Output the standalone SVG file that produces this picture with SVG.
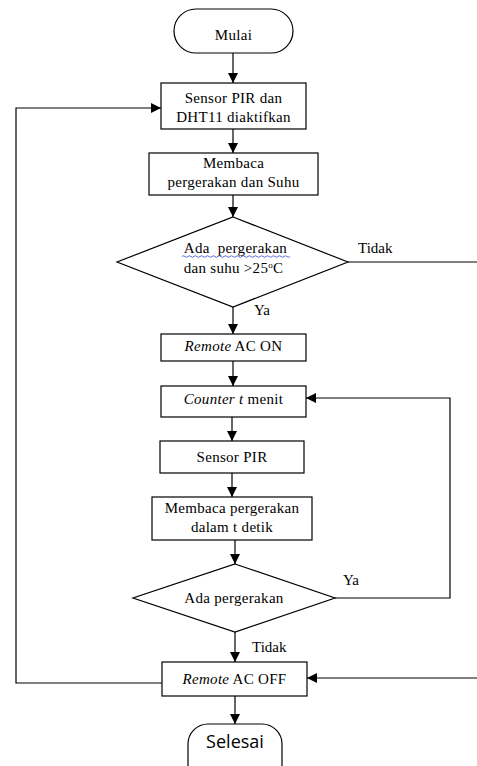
<svg xmlns="http://www.w3.org/2000/svg" width="477" height="766" viewBox="0 0 477 766">
<style>
.shape{fill:#fff;stroke:#000;stroke-width:1.2}
.t{font-family:"Liberation Serif","Times New Roman",serif;font-size:15px;fill:#000;text-anchor:middle;letter-spacing:0.3px}
.lbl{font-family:"Liberation Serif","Times New Roman",serif;font-size:15px;fill:#000}
.s{font-family:"Open Sans","Liberation Sans",sans-serif;font-size:18px;fill:#000;text-anchor:middle}
.c{fill:none;stroke:#000;stroke-width:1.2}
</style>
<defs>
<marker id="ah" markerWidth="10" markerHeight="10" refX="10" refY="5" orient="auto" markerUnits="userSpaceOnUse">
<path d="M0,0 L10,5 L0,10 z" fill="#000"/>
</marker>
</defs>
<rect width="477" height="766" fill="#fff"/>
<g id="connectors">
<path class="c" d="M233,53 V83" marker-end="url(#ah)"/>
<path class="c" d="M233,129 V153" marker-end="url(#ah)"/>
<path class="c" d="M233,195 V217" marker-end="url(#ah)"/>
<path class="c" d="M233,307 V334" marker-end="url(#ah)"/>
<path class="c" d="M233,361 V386" marker-end="url(#ah)"/>
<path class="c" d="M232,417 V441" marker-end="url(#ah)"/>
<path class="c" d="M232,473 V497" marker-end="url(#ah)"/>
<path class="c" d="M235,540 V564" marker-end="url(#ah)"/>
<path class="c" d="M235,632 V662" marker-end="url(#ah)"/>
<path class="c" d="M235,696 V724" marker-end="url(#ah)"/>
<path class="c" d="M335,598 H450 V398 H306" marker-end="url(#ah)"/>
<path class="c" d="M348,262 H477"/>
<path class="c" d="M477,678 H307" marker-end="url(#ah)"/>
<path class="c" d="M162,683 H16 V108 H161" marker-end="url(#ah)"/>
<text class="lbl" x="358" y="253">Tidak</text>
<text class="lbl" x="254" y="315">Ya</text>
<text class="lbl" x="343" y="585">Ya</text>
<text class="lbl" x="252" y="652">Tidak</text>
</g>
<g id="mulai">
<rect class="shape" x="174" y="9" width="119" height="44" rx="22"/>
<text class="t" x="233.5" y="40">Mulai</text>
</g>
<g id="aktifkan">
<rect class="shape" x="161" y="83" width="145" height="46"/>
<text class="t" x="233.5" y="103">Sensor PIR dan</text>
<text class="t" x="233.5" y="122">DHT11 diaktifkan</text>
</g>
<g id="membaca">
<rect class="shape" x="149" y="153" width="169" height="42"/>
<text class="t" x="233.5" y="168">Membaca</text>
<text class="t" x="233.5" y="187">pergerakan dan Suhu</text>
</g>
<g id="cek1">
<polygon class="shape" points="233,217 348,262 233,307 117,262"/>
<text class="t" x="235.5" y="253" xml:space="preserve">Ada  pergerakan</text>
<path d="M182,256.5 q1.5,-1.5 3,0 t3,0 t3,0 t3,0 t3,0 t3,0 t3,0 t3,0 t3,0 t3,0 t3,0 t3,0 t3,0 t3,0 t3,0 t3,0 t3,0 t3,0 t3,0 t3,0 t3,0 t3,0 t3,0 t3,0 t3,0 t3,0 t3,0 t3,0 t3,0 t3,0 t3,0 t3,0 t3,0 t3,0 t3,0 t3,0" fill="none" stroke="#4a5fd0" stroke-width="0.9"/>
<text class="t" x="233.5" y="273">dan suhu &gt;25<tspan font-size="9" dy="-5">o</tspan><tspan dy="5">C</tspan></text>
</g>
<g id="acon">
<rect class="shape" x="161" y="334" width="145" height="27"/>
<text class="t" x="233.5" y="351"><tspan font-style="italic">Remote</tspan> AC ON</text>
</g>
<g id="counter">
<rect class="shape" x="161" y="386" width="145" height="31"/>
<text class="t" x="233.5" y="404"><tspan font-style="italic">Counter t</tspan> menit</text>
</g>
<g id="pir">
<rect class="shape" x="160" y="441" width="144" height="32"/>
<text class="t" x="232" y="462">Sensor PIR</text>
</g>
<g id="membaca2">
<rect class="shape" x="152" y="497" width="160" height="43"/>
<text class="t" x="232" y="513">Membaca pergerakan</text>
<text class="t" x="232" y="532">dalam t detik</text>
</g>
<g id="cek2">
<polygon class="shape" points="235,564 335,598 235,632 133,598"/>
<text class="t" x="234" y="603">Ada pergerakan</text>
</g>
<g id="acoff">
<rect class="shape" x="162" y="662" width="145" height="34"/>
<text class="t" x="234.5" y="684"><tspan font-style="italic">Remote</tspan> AC OFF</text>
</g>
<g id="selesai">
<rect class="shape" x="188" y="724" width="94" height="60" rx="20"/>
<text class="s" x="235" y="748">Selesai</text>
</g>
</svg>
